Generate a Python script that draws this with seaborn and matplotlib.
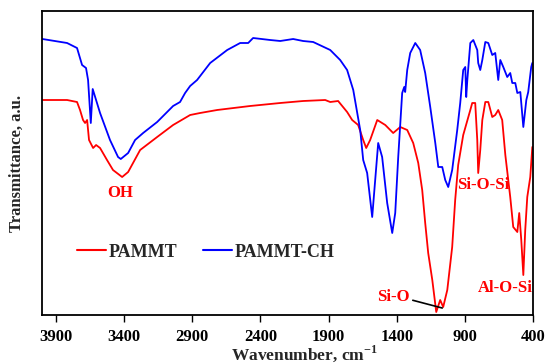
import matplotlib
matplotlib.use("Agg")
import matplotlib.pyplot as plt
import seaborn as sns
import pandas as pd

# ---- data ----
wn_pammt = [4000, 3819, 3746, 3724, 3702, 3687, 3672, 3658, 3628, 3606, 3577, 3526, 3482,
            3415, 3371, 3335, 3283, 3158, 3041, 2916, 2843, 2718, 2476, 2255, 2087, 1925,
            1888, 1830, 1764, 1727, 1683, 1646, 1624, 1595, 1543, 1484, 1426, 1374, 1323,
            1279, 1242, 1213, 1191, 1169, 1139, 1110, 1081, 1059, 1029, 993, 971, 949, 912,
            860, 846, 824, 809, 802, 787, 772, 750, 728, 699, 677, 655, 626, 603, 567, 545,
            515, 501, 486, 471, 457, 442, 420, 405]
t_pammt = [215, 215, 213, 205, 195, 192, 195, 175, 167, 170, 167, 155, 145,
           138, 143, 152, 165, 178, 190, 200, 202, 205, 209, 212, 214, 215,
           213, 214, 203, 195, 190, 175, 167, 175, 195, 190, 182, 188, 185,
           172, 152, 125, 92, 62, 35, 3, 15, 8, 25, 68, 115, 150, 180,
           205, 212, 212, 175, 142, 165, 195, 213, 213, 198, 200, 205, 195, 160, 118, 88,
           83, 102, 75, 40, 85, 118, 138, 168]

wn_ch = [4000, 3819, 3746, 3709, 3680, 3665, 3645, 3631, 3577, 3504, 3445, 3425, 3371,
         3320, 3261, 3158, 3041, 2990, 2953, 2916, 2865, 2769, 2644, 2549, 2490, 2454,
         2329, 2255, 2160, 2087, 2013, 1888, 1815, 1764, 1719, 1668, 1646, 1617, 1580,
         1558, 1536, 1507, 1470, 1433, 1411, 1389, 1360, 1345, 1338, 1323, 1301, 1264,
         1228, 1191, 1154, 1117, 1095, 1066, 1044, 1022, 993, 956, 934, 912, 897, 890,
         882, 860, 838, 809, 802, 787, 772, 750, 728, 699, 677, 655, 640, 618, 589, 567,
         552, 530, 515, 493, 471, 449, 435, 413, 405]
t_ch = [276, 272, 267, 250, 247, 235, 192, 226, 202, 175, 158, 156, 162,
        175, 182, 193, 209, 213, 222, 229, 235, 252, 265, 272, 272, 277,
        275, 274, 276, 274, 273, 265, 255, 245, 225, 185, 155, 142, 98,
        135, 172, 158, 112, 82, 102, 158, 222, 228, 223, 245, 262, 272,
        265, 242, 208, 172, 148, 148, 135, 128, 145, 185, 212, 245, 248, 218,
        235, 272, 275, 265, 252, 245, 255, 273, 272, 260, 262, 235, 255, 248, 238, 242,
        232, 232, 222, 223, 188, 215, 223, 248, 252]

series_names = ["PAMMT", "PAMMT-CH"]
series_colors = ["#ff0000", "#0000ff"]
x_ticks = [3900, 3400, 2900, 2400, 1900, 1400, 900, 400]

# ---- style ----
sns.set_theme(style="white")
plt.rcParams["font.family"] = ["Liberation Serif", "DejaVu Serif"]
plt.rcParams["font.weight"] = "bold"
plt.rcParams["mathtext.fontset"] = "custom"
plt.rcParams["mathtext.rm"] = "Liberation Serif"
plt.rcParams["mathtext.bf"] = "Liberation Serif:bold"

df1 = pd.DataFrame({"wn": wn_pammt, "T": t_pammt})
df2 = pd.DataFrame({"wn": wn_ch, "T": t_ch})

fig = plt.figure(figsize=(5.47, 3.63), dpi=100)
ax = fig.add_axes([0.0768, 0.1322, 0.8976, 0.8375])

sns.lineplot(data=df1, x="wn", y="T", ax=ax, color=series_colors[0], lw=1.3,
             estimator=None, sort=False, label=series_names[0])
sns.lineplot(data=df2, x="wn", y="T", ax=ax, color=series_colors[1], lw=1.3,
             estimator=None, sort=False, label=series_names[1])

ax.set_xlim(4003, 400)
ax.set_ylim(0, 304)
ax.set_xticks(x_ticks)
ax.set_xticklabels([str(v) for v in x_ticks], fontsize=12, fontweight="bold")
ax.set_yticks([])
ax.tick_params(axis="x", direction="out", length=5, width=1, pad=5, bottom=True, colors="black")

for s in ax.spines.values():
    s.set_color("black")
    s.set_linewidth(1.3)

ax.set_xlabel(r"Wavenumber, cm$^{\mathbf{-1}}$", fontsize=12.5, fontweight="bold")
ax.xaxis.set_label_coords(0.534, -0.093)
ax.set_ylabel("Transmittance, a.u.", fontsize=12, fontweight="bold", labelpad=12)

ann_kw = dict(color="#ff0000", fontsize=12, fontweight="bold", ha="center", va="center")
ax.text(3430, 122, "OH", **ann_kw)
ax.text(765, 130, "Si-O-Si", **ann_kw)
ax.text(603, 27, "Al-O-Si", **ann_kw)
ax.annotate("Si-O", xy=(1066, 7), xytext=(1426, 18), textcoords="data",
            arrowprops=dict(arrowstyle="-", color="black", lw=1.2, shrinkA=0, shrinkB=0,
                            relpos=(1.0, 0.35)),
            **ann_kw)

leg = ax.legend(loc="center left", bbox_to_anchor=(0.071, 0.207), ncol=2, frameon=False,
                fontsize=13, handlelength=1.6, handletextpad=0.15, columnspacing=1.45,
                borderaxespad=0, borderpad=0)
for t in leg.get_texts():
    t.set_fontweight("bold")
for h in leg.get_lines():
    h.set_linewidth(1.5)

fig.savefig("out.png", dpi=100)
